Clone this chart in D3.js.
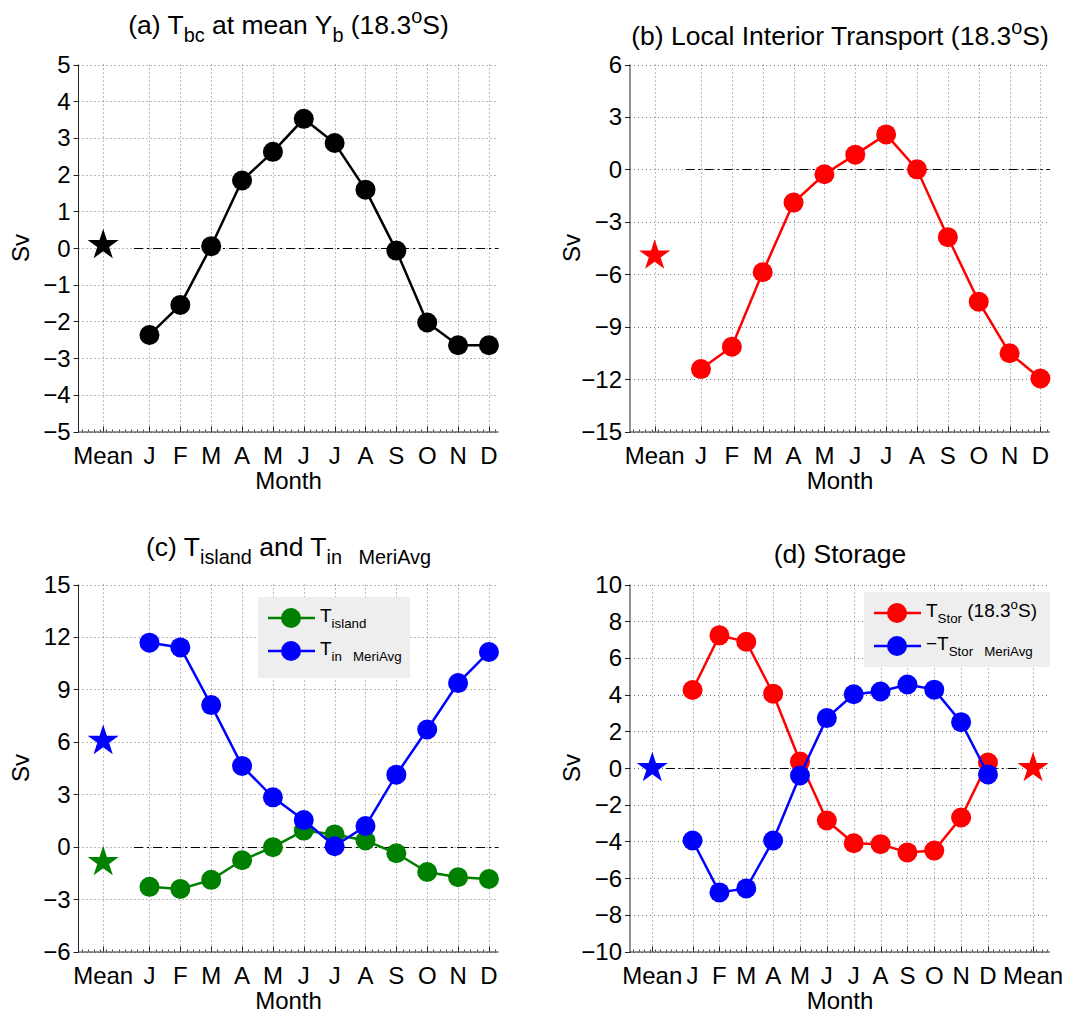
<!doctype html>
<meta charset=utf8>
<title>Sv transports by month</title>
<style>
  body { margin: 0; background: #fff; }
  svg { font-family: "Liberation Sans", Arial, Helvetica, sans-serif; }
  text { white-space: pre; fill: #000; }
</style>
<svg width=1066 height=1012></svg>
<script src=https://d3js.org/d3.v7.min.js></script>
<script>
  // month labels
  var months = ['J', 'F', 'M', 'A', 'M', 'J', 'J', 'A', 'S', 'O', 'N', 'D'];

  // (a) T_bc at mean Y_b
  var tbcMonthly = [-2.37, -1.55, 0.05, 1.84, 2.62, 3.52, 2.86, 1.59, -0.07, -2.03, -2.65, -2.65];
  var tbcMean = 0.08;
  var tbcTicks = [-5, -4, -3, -2, -1, 0, 1, 2, 3, 4, 5];

  // (b) local interior transport
  var interiorMonthly = [-11.43, -10.15, -5.89, -1.9, -0.28, 0.84, 2.0, 0.0, -3.88, -7.57, -10.52, -11.97];
  var interiorMean = -4.93;
  var interiorTicks = [-15, -12, -9, -6, -3, 0, 3, 6];

  // (c) T_island and T_in MeriAvg
  var islandMonthly = [-2.3, -2.42, -1.9, -0.78, -0.03, 0.92, 0.7, 0.35, -0.38, -1.45, -1.75, -1.85];
  var islandMean = -0.88;
  var inMeriMonthly = [11.67, 11.4, 8.1, 4.62, 2.82, 1.52, 0.02, 1.18, 4.12, 6.7, 9.36, 11.14];
  var inMeriMean = 6.05;
  var islandTicks = [-6, -3, 0, 3, 6, 9, 12, 15];

  // (d) storage
  var storMonthly = [4.25, 7.23, 6.88, 4.05, 0.35, -2.86, -4.1, -4.15, -4.6, -4.5, -2.7, 0.3];
  var storMean = 0.0;
  var negStorMeriMonthly = [-3.95, -6.78, -6.56, -3.95, -0.41, 2.72, 4.02, 4.17, 4.55, 4.27, 2.5, -0.35];
  var negStorMeriMean = 0.0;
  var storTicks = [-10, -8, -6, -4, -2, 0, 2, 4, 6, 8, 10];

  var svg = d3.select('svg');
  var PW = 420, PH = 367, FS = 24, TFS = 26.5;

  function rich(sel, parts, fs, ratio) {
    var shift = 0;
    parts.forEach(function (p) {
      var target = p[1] === 'sub' ? 0.3 * fs : p[1] === 'sup' ? -0.42 * fs : 0;
      sel.append('tspan')
        .attr('dy', target - shift)
        .attr('font-size', p[1] ? fs * ratio : fs)
        .text(p[0]);
      shift = target;
    });
  }

  var panels = [
    {
      left: 78.5, top: 64.5, xDomain: [-1.3, 12.31], yTicks: tbcTicks,
      title: [['(a) T'], ['bc', 'sub'], [' at mean Y'], ['b', 'sub'], [' (18.3'], ['o', 'sup'], ['S)']],
      titleY: 34, zero: [0.5, 12.31], meanLabels: [-0.5],
      series: [{ values: tbcMonthly, mean: tbcMean, meanAt: -0.5, color: '#000' }]
    },
    {
      left: 630, top: 64.5, xDomain: [-1.3, 12.31], yTicks: interiorTicks,
      title: [['(b) Local Interior Transport (18.3'], ['o', 'sup'], ['S)']],
      titleY: 45, zero: [0.5, 12.31], meanLabels: [-0.5],
      series: [{ values: interiorMonthly, mean: interiorMean, meanAt: -0.5, color: '#ff0000' }]
    },
    {
      left: 78.5, top: 584.5, xDomain: [-1.3, 12.31], yTicks: islandTicks,
      title: [['(c) T'], ['island', 'sub'], [' and T'], ['in   MeriAvg', 'sub']],
      titleY: 556, zero: [0.5, 12.31], meanLabels: [-0.5],
      series: [
        { values: islandMonthly, mean: islandMean, meanAt: -0.5, color: '#008000' },
        { values: inMeriMonthly, mean: inMeriMean, meanAt: -0.5, color: '#0000ff' }
      ],
      legend: {
        x: 258, y: 597, w: 152, h: 81, fs: 19,
        rows: [
          { color: '#008000', parts: [['T'], ['island', 'sub']] },
          { color: '#0000ff', parts: [['T'], ['in   MeriAvg', 'sub']] }
        ]
      }
    },
    {
      left: 630, top: 584.5, xDomain: [-1.33, 14.31], yTicks: storTicks,
      title: [['(d) Storage']],
      titleY: 563, zero: [0, 13.2], meanLabels: [-0.5, 13.68],
      series: [
        { values: storMonthly, mean: storMean, meanAt: 13.68, color: '#ff0000' },
        { values: negStorMeriMonthly, mean: negStorMeriMean, meanAt: -0.5, color: '#0000ff' }
      ],
      legend: {
        x: 864, y: 592, w: 186, h: 75, fs: 19,
        rows: [
          { color: '#ff0000', parts: [['T'], ['Stor', 'sub'], [' (18.3'], ['o', 'sup'], ['S)']] },
          { color: '#0000ff', parts: [['\u2212T'], ['Stor   MeriAvg', 'sub']] }
        ]
      }
    }
  ];

  panels.forEach(drawPanel);

  function drawPanel(p) {
    var yDomain = d3.extent(p.yTicks);
    var x = d3.scaleLinear().domain(p.xDomain).range([p.left, p.left + PW]);
    var y = d3.scaleLinear().domain(yDomain).range([p.top + PH, p.top]);
    var g = svg.append('g');
    var bottom = p.top + PH, right = p.left + PW;

    var xTicks = p.meanLabels.concat(d3.range(1, 13));
    var xLabels = xTicks.map(function (t) { return t < 1 || t > 12 ? 'Mean' : months[t - 1]; });

    // dotted grid
    g.selectAll('.vg').data(xTicks).enter().append('line')
      .attr('x1', function (d) { return Math.round(x(d)) + 0.5; })
      .attr('x2', function (d) { return Math.round(x(d)) + 0.5; })
      .attr('y1', p.top).attr('y2', bottom)
      .attr('stroke', '#777').attr('stroke-dasharray', '1,3');
    g.selectAll('.hg').data(p.yTicks).enter().append('line')
      .attr('x1', p.left).attr('x2', right)
      .attr('y1', function (d) { return Math.round(y(d)) + 0.5; })
      .attr('y2', function (d) { return Math.round(y(d)) + 0.5; })
      .attr('stroke', '#777').attr('stroke-dasharray', '1,3');

    // zero line, dash-dot
    g.append('line')
      .attr('x1', x(p.zero[0])).attr('x2', x(p.zero[1]))
      .attr('y1', Math.round(y(0)) + 0.5).attr('y2', Math.round(y(0)) + 0.5)
      .attr('stroke', '#000').attr('stroke-dasharray', '9,4,2,4');

    // axes
    g.append('line').attr('x1', p.left).attr('x2', p.left).attr('y1', p.top).attr('y2', bottom + 0.5)
      .attr('stroke', '#222');
    g.append('line').attr('x1', p.left).attr('x2', right).attr('y1', bottom + 0.5).attr('y2', bottom + 0.5)
      .attr('stroke', '#222');
    var minor = d3.range(Math.ceil(p.xDomain[0] * 5) / 5, p.xDomain[1], 0.2);
    g.selectAll('.mt').data(minor).enter().append('line')
      .attr('x1', function (d) { return Math.round(x(d)) + 0.5; })
      .attr('x2', function (d) { return Math.round(x(d)) + 0.5; })
      .attr('y1', bottom).attr('y2', bottom - 2)
      .attr('stroke', '#444');
    g.selectAll('.xt').data(xTicks).enter().append('line')
      .attr('x1', function (d) { return Math.round(x(d)) + 0.5; })
      .attr('x2', function (d) { return Math.round(x(d)) + 0.5; })
      .attr('y1', bottom).attr('y2', bottom - 5)
      .attr('stroke', '#222');
    g.selectAll('.yt').data(p.yTicks).enter().append('line')
      .attr('x1', p.left - 5).attr('x2', p.left)
      .attr('y1', function (d) { return Math.round(y(d)) + 0.5; })
      .attr('y2', function (d) { return Math.round(y(d)) + 0.5; })
      .attr('stroke', '#222');

    g.selectAll('.xl').data(xTicks).enter().append('text')
      .attr('x', function (d) { return x(d); })
      .attr('y', bottom + 32)
      .attr('text-anchor', 'middle').attr('font-size', FS)
      .text(function (d, i) { return xLabels[i]; });
    g.selectAll('.yl').data(p.yTicks).enter().append('text')
      .attr('x', p.left - 8)
      .attr('y', function (d) { return y(d) + 8.5; })
      .attr('text-anchor', 'end').attr('font-size', FS)
      .text(function (d) { return d < 0 ? '\u2212' + Math.abs(d) : d; });

    g.append('text').attr('x', p.left + PW / 2).attr('y', bottom + 57)
      .attr('text-anchor', 'middle').attr('font-size', FS).text('Month');
    g.append('text')
      .attr('transform', 'translate(' + (p.left - 50) + ',' + (p.top + PH / 2) + ') rotate(-90)')
      .attr('text-anchor', 'middle').attr('font-size', FS).text('Sv');

    var title = g.append('text').attr('x', p.left + PW / 2).attr('y', p.titleY)
      .attr('text-anchor', 'middle').attr('font-size', TFS);
    rich(title, p.title, TFS, 0.75);

    // series
    var line = d3.line()
      .x(function (d, i) { return x(i + 1); })
      .y(function (d) { return y(d); });
    var star = d3.symbol().type(d3.symbolStar).size(300);

    p.series.forEach(function (s) {
      g.append('path').datum(s.values)
        .attr('d', line)
        .attr('fill', 'none').attr('stroke', s.color).attr('stroke-width', 2.5);
      g.selectAll(null).data(s.values).enter().append('circle')
        .attr('cx', function (d, i) { return x(i + 1); })
        .attr('cy', function (d) { return y(d); })
        .attr('r', 10)
        .attr('fill', s.color);
      g.append('path').attr('d', star)
        .attr('transform', 'translate(' + x(s.meanAt) + ',' + y(s.mean) + ')')
        .attr('fill', s.color);
    });

    if (p.legend) {
      var L = p.legend;
      g.append('rect').attr('x', L.x).attr('y', L.y).attr('width', L.w).attr('height', L.h)
        .attr('fill', '#eeeeee');
      L.rows.forEach(function (r, i) {
        var cy = L.y + 21 + i * 33;
        g.append('line').attr('x1', L.x + 10).attr('x2', L.x + 57)
          .attr('y1', cy).attr('y2', cy)
          .attr('stroke', r.color).attr('stroke-width', 2.5);
        g.append('circle').attr('cx', L.x + 33).attr('cy', cy).attr('r', 10).attr('fill', r.color);
        var t = g.append('text').attr('x', L.x + 62).attr('y', cy + 4).attr('font-size', L.fs);
        rich(t, r.parts, L.fs, 0.7);
      });
    }
  }
</script>
